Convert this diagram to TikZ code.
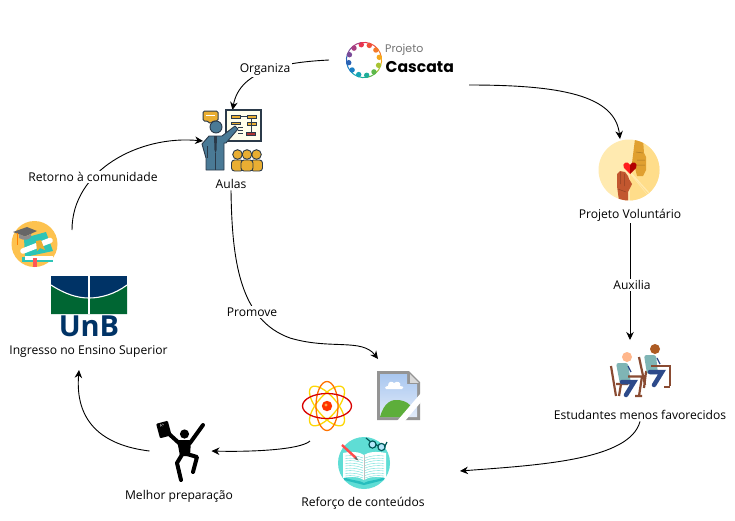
\documentclass[tikz,border=0pt]{standalone}
\usepackage{fontspec}
\setmainfont{Open Sans}
\newfontfamily\popfont{Poppins}
\usetikzlibrary{arrows.meta,calc}
\definecolor{navyb}{HTML}{003366}
\definecolor{greenb}{HTML}{006633}
\definecolor{darkp}{HTML}{2B3A4A}
\definecolor{bluep}{HTML}{4A7A96}
\definecolor{goldp}{HTML}{E9AE32}
\definecolor{woodc}{HTML}{8A4B32}
\definecolor{navyleg}{HTML}{2D4A8A}
\definecolor{shirt}{HTML}{7FB5B5}
\definecolor{volA}{HTML}{FFEAB0}
\definecolor{volB}{HTML}{FFDD8A}
\definecolor{handA}{HTML}{E0A030}
\definecolor{handB}{HTML}{C2572F}
\definecolor{turq}{HTML}{5FDDD5}
\definecolor{gradbg}{HTML}{FDC24F}
\definecolor{gradteal}{HTML}{2EC4B6}
\definecolor{skyA}{HTML}{A9C7F0}
\definecolor{skyB}{HTML}{E0EAF9}
\definecolor{hillg}{HTML}{5DAE3B}
\tikzset{
  lbl/.style={font=\fontsize{12.1}{14}\selectfont,text=black,inner sep=1.5pt},
  edgelbl/.style={lbl,fill=white},
  iconbox/.style={inner sep=0pt,outer sep=0pt,draw=none},
  conn/.style={draw=black,line width=0.9pt,-{Stealth[length=8pt,width=7.5pt]}},
  limb/.style={line width=4pt,line cap=round,line join=round,draw=black},
}
\begin{document}
\begin{tikzpicture}[x=1pt,y=-1pt]
\useasboundingbox (0,0) rectangle (735,520);
\fill[white] (0,0) rectangle (735,520);

% ---- anchor boxes for icons
\node[iconbox,minimum width=140pt,minimum height=50pt] (cascata) at (399,60) {};
\node[iconbox,minimum width=59pt,minimum height=62pt] (aulasicon) at (232.5,141) {};
\node[iconbox,minimum width=62pt,minimum height=62pt] (volicon) at (630,170) {};
\node[iconbox,minimum width=62pt,minimum height=62pt] (melhoricon) at (180.5,451) {};
\node[iconbox,minimum width=62pt,minimum height=64pt] (estudicon) at (640,372) {};
\node[iconbox,minimum width=46pt,minimum height=46pt] (gradicon) at (35,244) {};
\coordinate (gradout) at (72,230);
\coordinate (promoin) at (378,359);
\coordinate (reforcoin) at (460,471);
\coordinate (atomout) at (310,441);
\coordinate (ingressoin) at (79,370);
\coordinate (volin) at (620,139);

% ---- text labels
\node[lbl] (aulas) at (231,184) {Aulas};
\node[lbl] (vol) at (630,215.5) {Projeto Voluntário};
\node[lbl] (estud) at (640,415) {Estudantes menos favorecidos};
\node[lbl] (reforco) at (363,503.5) {Reforço de conteúdos};
\node[lbl] (melhor) at (179,496) {Melhor preparação};
\node[lbl] (ingresso) at (88.5,352) {Ingresso no Ensino Superior};

% ---- connectors
\draw[conn] (cascata.west) .. controls (290,62) and (240,68) .. (aulasicon.north);
\draw[conn] (cascata.south east) .. controls (560,85) and (615,95) .. (volin);
\draw[conn] (vol.south) -- (630,340);
\draw[conn] (estud.south) .. controls (630,460) and (540,465) .. (reforcoin);
\draw[conn] (aulas.south) .. controls (232,262) and (240,320) .. (290,338) .. controls (330,350) and (362,338) .. (promoin);
\draw[conn] (atomout) .. controls (300,450) and (250,452) .. (melhoricon.east);
\draw[conn] (melhoricon.west) .. controls (100,445) and (75,420) .. (ingressoin);
\draw[conn] (gradout) .. controls (72,170) and (140,135) .. (aulasicon.west);

\node[edgelbl] (organiza) at (265,70) {Organiza};
\node[edgelbl] (auxilia) at (632,285) {Auxilia};
\node[edgelbl] (promove) at (252,312) {Promove};
\node[edgelbl] (retorno) at (93,177) {Retorno à comunidade};

% ---- Projeto Cascata logo
\foreach \a/\c in {-100/E8344E,-70/F0503A,-40/F47A2A,-10/F5A81C,20/A8C433,50/5DB84A,80/1FAE9A,110/17A5B5,140/1B7FC4,170/2B63B5,200/7A4A98,230/A83E80}{
  \definecolor{tmpc}{HTML}{\c}
  \fill[tmpc] ($(364,60)+(\a:15.5)$) circle (2.7);
  \draw[tmpc,line width=1pt] ($(364,60)+(\a:17.6)$) arc[start angle=\a,delta angle=30,radius=17.6];
}
\node[font=\popfont\fontsize{11}{12}\selectfont,text=black!55,inner sep=0pt,anchor=west] (projeto) at (385,49.5) {Projeto};
\node[font=\popfont\bfseries\fontsize{15.6}{18}\selectfont,text=black,inner sep=0pt,anchor=west] (cascatatxt) at (385.5,67.5) {Cascata};

% ---- Aulas icon
\fill[fill=white!92!yellow,draw=darkp,line width=1.6pt] (226,110) rectangle (261,141);
\foreach \x/\y in {231/115,247/115,247/122}{
  \fill[goldp,draw=darkp,line width=.6pt] (\x,\y) rectangle ++(9,3.5);
}
\fill[goldp,draw=darkp,line width=.6pt] (231,122) rectangle ++(9,2.5);
\fill[red!60!black!80,draw=darkp,line width=.6pt] (246,132) rectangle ++(9,3.5);
\draw[darkp,line width=.7pt] (240,116.5) -- (247,116.5) (251,119) -- (251,132) (238,127) -- (243,127) (238,130) -- (243,130) (238,133) -- (243,133);
\fill[goldp,draw=darkp,line width=1pt,rounded corners=1.5pt] (203,111) -- (218,111) -- (218,121) -- (213,121) -- (210,124) -- (208,121) -- (203,121) -- cycle;
\fill[white] (206,114.5) rectangle (215,116);
\fill[bluep,draw=darkp,line width=.9pt] (216,127) circle (6);
\fill[bluep,draw=darkp,line width=.9pt,line join=round] (235,126) -- (238,129) -- (226,143) -- (224,143) -- (224,170) -- (206,170) -- (206,158) -- (202,144) -- (209,136) -- (222,136) -- cycle;
\fill[darkp] (214,136) -- (217,136) -- (216.5,150) -- (215.5,153) -- (214.5,150) -- cycle;
\draw[darkp,line width=.8pt] (215.5,153) -- (215.5,170) (207,146) -- (207,158);
\foreach \x in {237.5,256.5,247}{
  \fill[goldp,draw=darkp,line width=.9pt,rounded corners=3pt] (\x-6,171) -- (\x-6,160) -- (\x+6,160) -- (\x+6,171) -- cycle;
  \fill[goldp,draw=darkp,line width=.9pt] (\x,154.5) circle (4.8);
}

% ---- Volunteer icon
\begin{scope}
\fill[volA] (629,170) circle (30.5);
\clip (629,170) circle (30.5);
\fill[volB] (641,139) -- (665,139) -- (665,205) -- (648,195) -- (630,172) -- cycle;
\fill[volB] (630,174) -- (648,196) -- (630,205) -- cycle;
\draw[volA,line width=1.2pt] (630,172) -- (649,193);
\fill[handA] (635,139) -- (643,139) -- (644,153) -- (646,157) -- (646,170) -- (643,176) -- (637,176) -- (635,168) -- (632,163) -- cycle;
\draw[handA!75!black,line width=.5pt] (636,152) -- (643,153) (637,160) -- (645,160) (637,165) -- (645,165);
\fill[handB] (619,201) -- (628,201) -- (628,192) -- (632,184) -- (629,179) -- (628,176) -- (625,172) -- (620,171) -- (617,174) -- (617,186) -- cycle;
\draw[handB!75!black,line width=.5pt] (620.5,172) -- (620.5,184) (624.5,174) -- (624.5,186) (618,189) -- (626,192);
\end{scope}
\fill[red!85!pink] (630,174) -- (624,168) .. controls (621,163) and (628,160) .. (630,165) -- cycle;
\fill[red!70!black] (630,174) -- (636,168) .. controls (639,163) and (632,160) .. (630,165) -- cycle;

% ---- Graduation icon
\fill[gradbg] (34.5,244) circle (23);
\fill[gradteal] (24,238) -- (46,232) -- (53,251) -- (25,257) -- cycle;
\fill[gradteal] (22,257) -- (53,257) -- (53,262) -- (22,262) -- cycle;
\fill[white] (25,256) -- (53,256) -- (53,260) -- (25,260) -- cycle;
\fill[red!55!pink] (33,258) rectangle (37,266.5);
\draw[white,line width=5.5pt,line cap=round] (23,251) -- (50,240.5);
\fill[goldp] (36,241) -- (41,240) -- (45,250) -- (40,248) -- (37,251) -- cycle;
\fill[black!60] (13,232) -- (27,227) -- (37,231) -- (25,236.5) -- cycle;
\fill[black!45] (19,234) -- (19,238) .. controls (24,241) and (29,240) .. (31,237) -- (31,234) -- (25,236.5) -- cycle;
\draw[orange,line width=.8pt] (17,233) -- (17,245);

% ---- UnB logo
\fill[navyb] (51,276) rectangle (127,300);
\fill[greenb] (51,285) .. controls (65,294) and (77,298) .. (89,298) .. controls (101,298) and (115,294) .. (127,285) -- (127,314) -- (51,314) -- cycle;
\draw[white,line width=1.1pt] (51,285) .. controls (65,294) and (77,298) .. (89,298) .. controls (101,298) and (115,294) .. (127,285);
\draw[white,line width=2pt] (89,276) -- (89,314);
\node[font=\bfseries\fontsize{29}{30}\selectfont,text=navyb,inner sep=0pt] (unb) at (89,326.5) {UnB};

% ---- Atom
\draw[yellow!75!orange,line width=1.3pt,rotate around={50:(327,406)}] (327,406) ellipse (24.5 and 10);
\draw[yellow!75!orange,line width=1.3pt,rotate around={-50:(327,406)}] (327,406) ellipse (24.5 and 10);
\draw[orange!90!red,line width=1.3pt,rotate around={90:(327,406)}] (327,406) ellipse (24.5 and 11);
\draw[red!85!black,line width=1.3pt] (327,406) ellipse (24.5 and 12.5);
\fill[red!60!orange] (327,406) circle (5.2);
\fill[orange!70!white] (326,405) circle (1.7);

% ---- Broken image placeholder
\fill[black!42] (377,371) -- (409,371) -- (420,382) -- (420,420) -- (377,420) -- cycle;
\shade[top color=skyA,bottom color=skyB] (380,374) -- (407,374) -- (407,384) -- (417,384) -- (417,417) -- (380,417) -- cycle;
\fill[white] (388,386) .. controls (388,381) and (392,381) .. (394,383) .. controls (397,380) and (402,383) .. (400,386) .. controls (404,386) and (404,389) .. (402,389) -- (386,389) .. controls (384,389) and (385,386) .. (388,386) -- cycle;
\fill[hillg] (380,417) .. controls (384,402) and (392,399) .. (399,400) .. controls (406,401) and (410,404) .. (412,408) -- (402,417) -- cycle;
\fill[white] (421,393) -- (421,402) -- (405,421) -- (397,421) -- cycle;
\fill[white] (410,370) -- (421,381) -- (421,370) -- cycle;
\draw[black!42,line width=1pt,fill=black!15] (409,373) -- (409,383) -- (419,383);

% ---- Reforço icon
\fill[turq] (364,463) circle (26);
\fill[teal!60!cyan!85] (344,477) .. controls (352,481) and (360,480) .. (364,483) .. controls (368,480) and (376,481) .. (384,477) -- (384,480) -- (364,485) -- (344,480) -- cycle;
\fill[white] (343,453) .. controls (352,451) and (360,452) .. (364,455) .. controls (368,452) and (376,451) .. (386,453) -- (386,478) .. controls (376,476) and (368,477) .. (364,480) .. controls (360,477) and (352,476) .. (343,478) -- cycle;
\foreach \d in {0,2.5,...,20}{
  \draw[turq,line width=.35pt] (345,456+\d) .. controls (352,455+\d) and (358,456+\d) .. (363,458+\d);
  \draw[turq,line width=.35pt] (365,458+\d) .. controls (370,456+\d) and (376,455+\d) .. (384,456+\d);
}
\draw[black!25,line width=.5pt] (364,455) -- (364,480);
\draw[red!60!pink,line width=2.4pt] (342,445) -- (356,458);
\fill[black!60] (356,456.5) -- (358.5,460.5) -- (354.5,459) -- cycle;
\draw[teal!70!black,line width=1.2pt] (366,438) -- (372,443);
\draw[teal!70!black,line width=1.2pt,fill=white!70!cyan] (372.5,444.5) circle (3.6);
\draw[teal!70!black,line width=1.2pt,fill=white!70!cyan] (381.5,447) circle (3.6);
\draw[teal!70!black,line width=1.2pt] (375.5,444.5) -- (378.5,446) (384.5,447) -- (387,442);

% ---- Students icon
\draw[woodc,line width=2.2pt] (611,366) -- (616,396) (616,384) -- (628,384);
\draw[woodc,line width=2.2pt] (621,384) -- (619,396);
\fill[shirt,rounded corners=2.5pt] (616,363) -- (628,363) -- (631,384) -- (620,384) -- cycle;
\draw[navyleg,line width=4.5pt,line cap=round] (622,382) -- (634,382) -- (626,395);
\draw[woodc,line width=2.2pt] (628,376.5) -- (642,376.5) -- (639,396) (635,396) -- (642,396);
\draw[navyleg,line width=1.2pt] (628,366) -- (631,372);
\fill[red!25!orange!45!white] (627,357) circle (5);
\draw[woodc,line width=2.2pt] (639,357) -- (645,385) (645,372) -- (653,372) (646,372) -- (644,388);
\fill[shirt,rounded corners=2.5pt] (644,355) -- (656,355) -- (658,374) -- (647,374) -- cycle;
\draw[navyleg,line width=4.5pt,line cap=round] (650,372) -- (662,372) -- (654,385);
\draw[woodc,line width=2.2pt] (651,366) -- (670,366) -- (670,386) (664,387) -- (670,387);
\draw[navyleg,line width=1.2pt] (657,358) -- (660,364);
\fill[woodc!70!orange] (655,349) circle (5);

% ---- Melhor preparação icon
\fill[black] (184.5,434) circle (4.6);
\fill[black,rounded corners=1.5pt] (177,440) -- (191,440) -- (190,456) -- (180,456) -- cycle;
\draw[limb] (190,443) -- (203,425);
\draw[limb] (179,443) -- (168,433);
\draw[limb] (183,453) -- (177,463) -- (181,480);
\draw[limb] (187,454) -- (197,457) -- (193,472);
\fill[black,rounded corners=1pt,rotate around={15:(164,430)}] (158,422) rectangle (170,437);
\node[font=\fontsize{4}{4}\selectfont,text=white,inner sep=0pt,rotate=15] (paper) at (162,425) {A+};
\end{tikzpicture}
\end{document}
